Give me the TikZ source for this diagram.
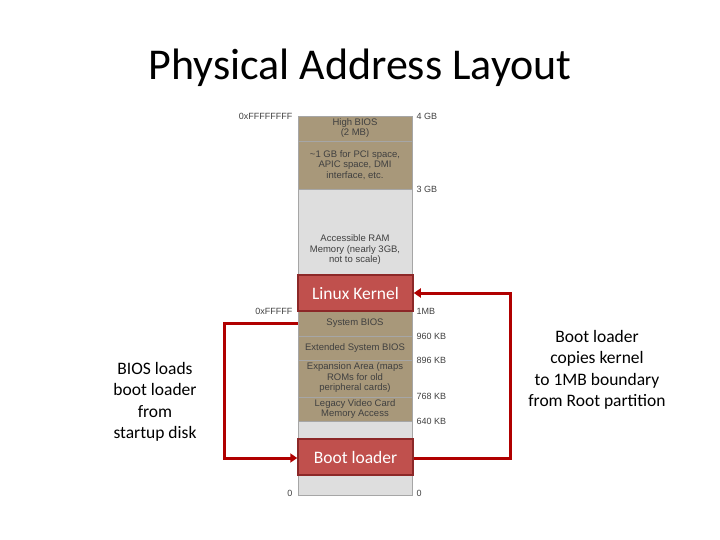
\documentclass[tikz,border=0pt]{standalone}
\usepackage{fontspec}
\setmainfont{Carlito}
\newfontfamily\arialf{Liberation Sans}
\usetikzlibrary{arrows.meta}
\begin{document}
\begin{tikzpicture}[x=1pt,y=-1pt,
  seg/.style={draw=gray!70,line width=0.6pt},
  tan/.style={seg,fill=tanc},
  gry/.style={seg,fill=grayc},
  memtxt/.style={font=\arialf\fontsize{9.5}{10.5}\selectfont,text=black!75,align=center,inner sep=0pt},
  addr/.style={font=\arialf\fontsize{9}{10}\selectfont,text=black!75},
  redbox/.style={draw=redb,line width=1.5pt,fill=redf,text=white,font=\fontsize{17.5}{19}\selectfont,minimum width=115pt,minimum height=36pt,inner sep=0pt},
  conn/.style={draw=redl,line width=3pt},
  side/.style={font=\fontsize{17.5}{21.5}\selectfont,align=center}]
\definecolor{tanc}{RGB}{168,152,122}
\definecolor{grayc}{RGB}{222,222,222}
\definecolor{redf}{RGB}{192,80,77}
\definecolor{redb}{RGB}{140,40,40}
\definecolor{redl}{RGB}{176,0,0}
\useasboundingbox (0,0) rectangle (720,540);
\node (title) at (360,68) {\fontsize{44}{50}\selectfont Physical Address Layout};
% memory segments
\draw[tan] (298,116) rectangle (412,141);
\node[memtxt] (hb) at (355,128) {High BIOS\\(2 MB)};
\draw[tan] (298,141) rectangle (412,189);
\node[memtxt] (pci) at (355,165) {\textasciitilde1 GB for PCI space,\\APIC space, DMI\\interface, etc.};
\draw[gry] (298,189) rectangle (412,311);
\node[memtxt] (ram) at (355,250) {Accessible RAM\\Memory (nearly 3GB,\\not to scale)};
\draw[tan] (298,311) rectangle (412,336);
\node[memtxt] (sb) at (355,323) {System BIOS};
\draw[tan] (298,336) rectangle (412,360);
\node[memtxt] (eb) at (355,348) {Extended System BIOS};
\draw[tan] (298,360) rectangle (412,397);
\node[memtxt] (ea) at (355,378) {Expansion Area (maps\\ROMs for old\\peripheral cards)};
\draw[tan] (298,397) rectangle (412,421);
\node[memtxt] (lv) at (355,409) {Legacy Video Card\\Memory Access};
\draw[gry] (298,421) rectangle (412,495);
% addresses
\node[addr,anchor=east] (a1) at (296,116) {0xFFFFFFFF};
\node[addr,anchor=east] (a2) at (296,311) {0xFFFFF};
\node[addr,anchor=east] (a3) at (296,493) {0};
\node[addr,anchor=west] (r1) at (413,116) {4 GB};
\node[addr,anchor=west] (r2) at (413,189) {3 GB};
\node[addr,anchor=west] (r3) at (413,311) {1MB};
\node[addr,anchor=west] (r4) at (413,336) {960 KB};
\node[addr,anchor=west] (r5) at (413,360) {896 KB};
\node[addr,anchor=west] (r6) at (413,396) {768 KB};
\node[addr,anchor=west] (r7) at (413,421) {640 KB};
\node[addr,anchor=west] (r8) at (413,493) {0};
% red boxes
\node[redbox] (lk) at (355.5,293) {Linux Kernel};
\node[redbox] (bl) at (355.5,457) {Boot loader};
% connectors
\coordinate (sbl) at (298,323);
\draw[conn,-{Triangle[width=9pt,length=7pt]}] (sbl) -- (224,323) -- (224,458) -- (bl.west|-0,458);
\draw[conn,-{Triangle[width=9pt,length=7pt]}] (bl.east|-0,458) -- (510,458) -- (510,293) -- (lk.east);
% side texts
\node[side] (lt) at (155,402) {BIOS loads\\boot loader\\from\\startup disk};
\node[side] (rt) at (597,370) {Boot loader\\copies kernel\\to 1MB boundary\\from Root partition};
\end{tikzpicture}
\end{document}
